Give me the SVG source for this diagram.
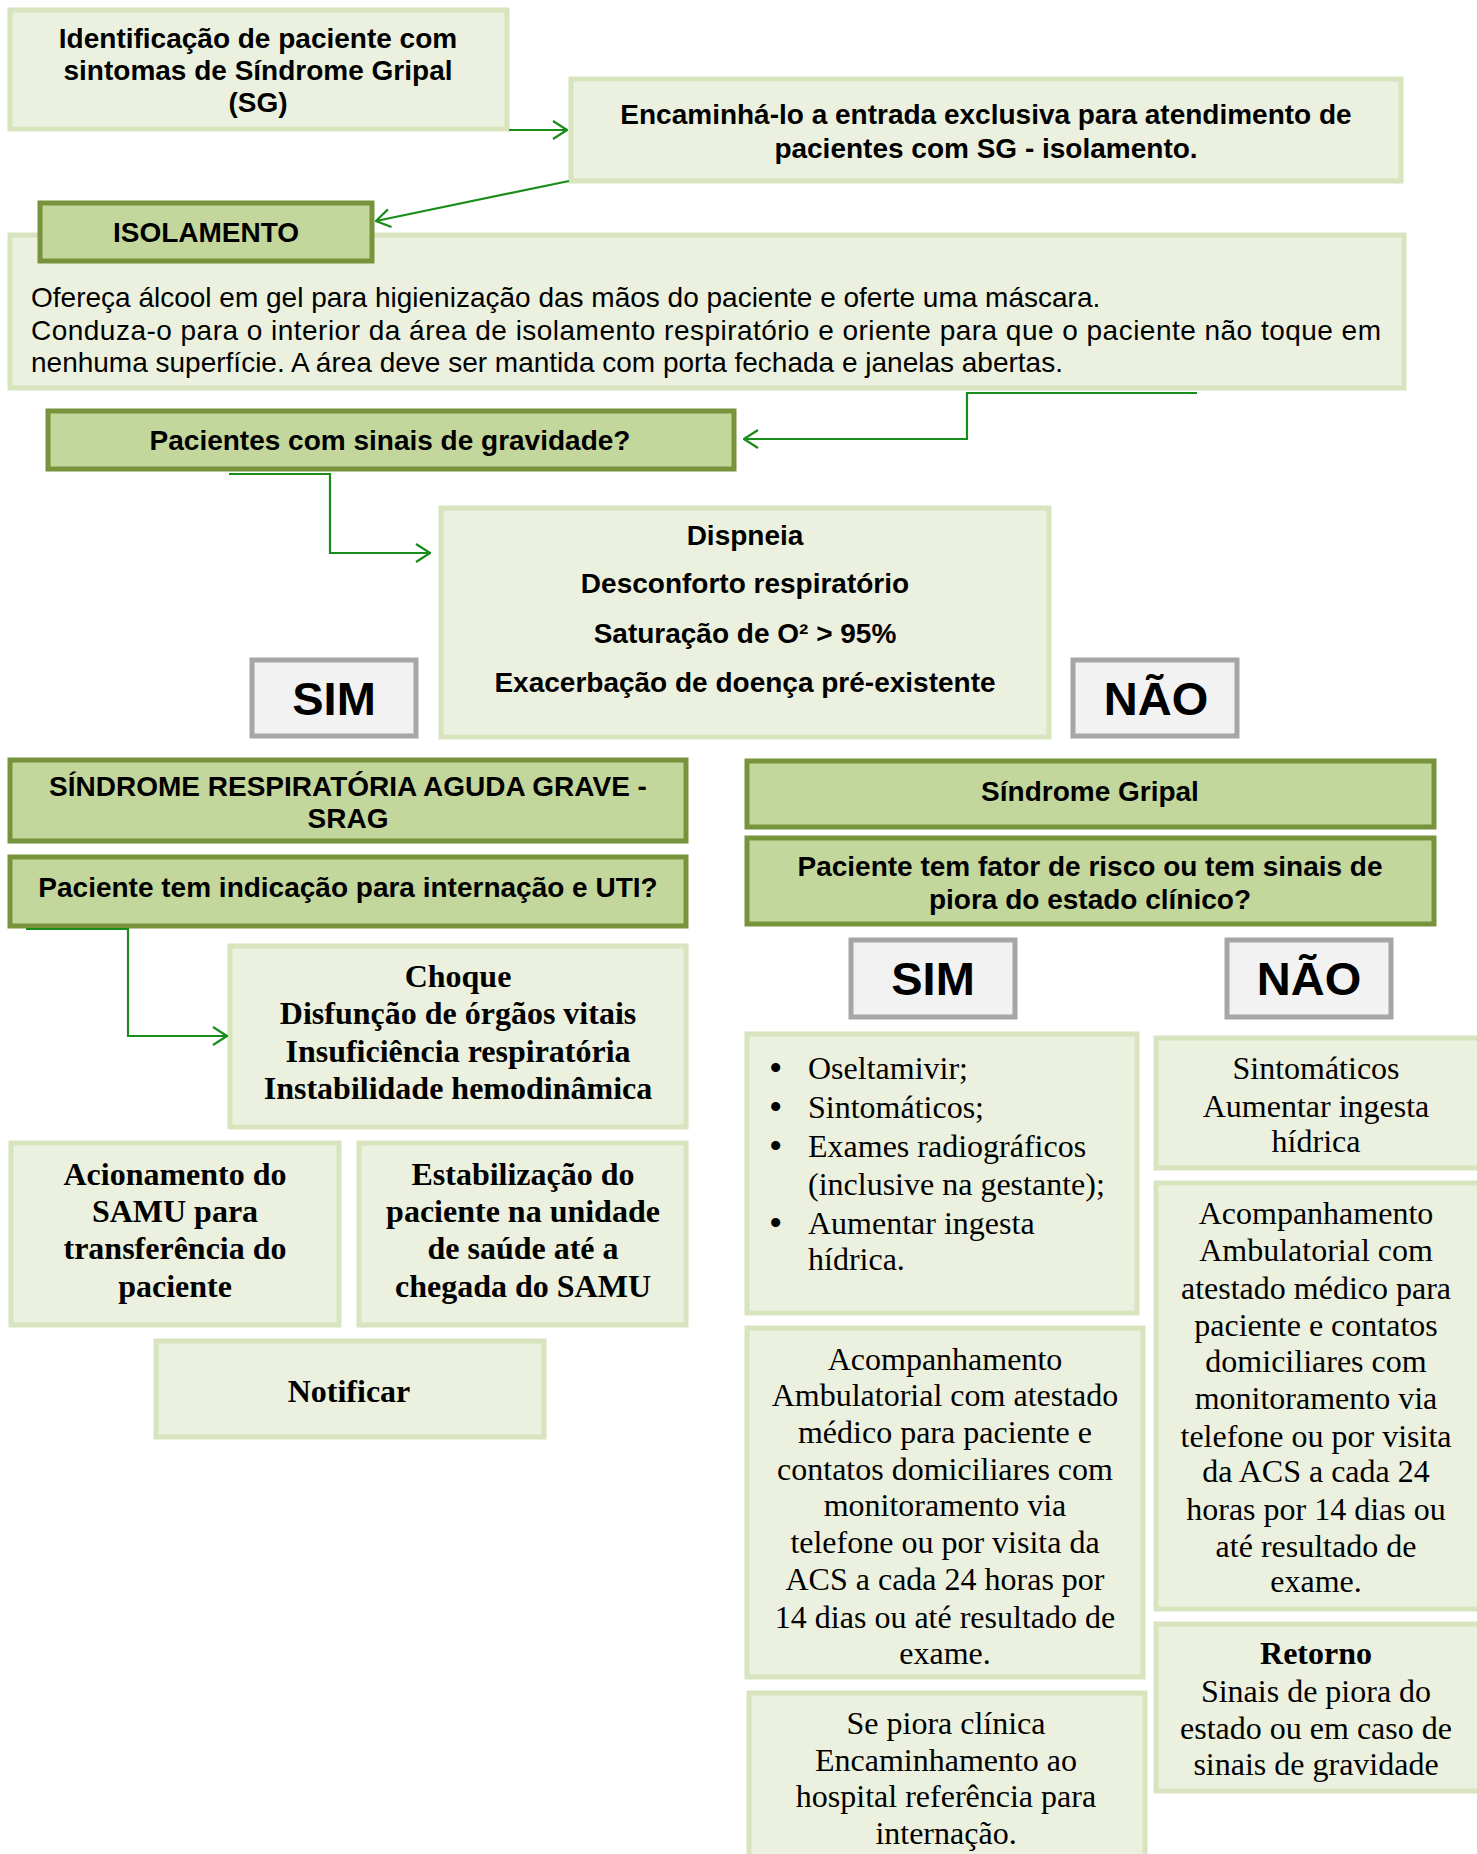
<svg xmlns="http://www.w3.org/2000/svg" width="1477" height="1854" viewBox="0 0 1477 1854">
<defs>
<style>
.lt{fill:#EBF1DE;stroke:#D7E4BD;stroke-width:5}
.hd{fill:#C3D69B;stroke:#77933C;stroke-width:5}
.gy{fill:#F2F2F2;stroke:#A6A6A6;stroke-width:5}
.ab{font-family:"Liberation Sans",Arial,sans-serif;font-weight:bold;font-size:28px;fill:#000;text-anchor:middle}
.ar{font-family:"Liberation Sans",Arial,sans-serif;font-size:28px;fill:#000}
.big{font-family:"Liberation Sans",Arial,sans-serif;font-weight:bold;font-size:47px;fill:#000;text-anchor:middle}
.tb{font-family:"Liberation Serif","Times New Roman",serif;font-weight:bold;font-size:32px;fill:#000;text-anchor:middle}
.tr{font-family:"Liberation Serif","Times New Roman",serif;font-size:32px;fill:#000;text-anchor:middle}
.tl{font-family:"Liberation Serif","Times New Roman",serif;font-size:32px;fill:#000}
.bu{font-family:"Liberation Serif","Times New Roman",serif;font-size:38px;fill:#000}
.cn{fill:none;stroke:#1A8C1A;stroke-width:2.2}
</style>
<marker id="ah" viewBox="0 0 16 20" refX="15" refY="10" markerWidth="16" markerHeight="20" markerUnits="userSpaceOnUse" orient="auto">
<path d="M1,1 L15,10 L1,19" fill="none" stroke="#1A8C1A" stroke-width="2.2"/>
</marker>
</defs>
<rect width="1477" height="1854" fill="#fff"/>

<g id="n-identificacao">
<rect class="lt" x="10" y="10" width="497" height="119"/>
<text class="ab" x="258" y="48">Identificação de paciente com</text>
<text class="ab" x="258" y="80">sintomas de Síndrome Gripal</text>
<text class="ab" x="258" y="112">(SG)</text>
</g>

<g id="n-encaminha">
<rect class="lt" x="571" y="79" width="830" height="102"/>
<text class="ab" x="986" y="124">Encaminhá-lo a entrada exclusiva para atendimento de</text>
<text class="ab" x="986" y="158">pacientes com SG - isolamento.</text>
</g>

<g id="n-isolamento-texto">
<rect class="lt" x="10" y="235" width="1394" height="153"/>
<text class="ar" x="31" y="307">Ofereça álcool em gel para higienização das mãos do paciente e oferte uma máscara.</text>
<text class="ar" x="31" y="340" textLength="1350" lengthAdjust="spacing">Conduza-o para o interior da área de isolamento respiratório e oriente para que o paciente não toque em</text>
<text class="ar" x="31" y="372">nenhuma superfície. A área deve ser mantida com porta fechada e janelas abertas.</text>
</g>

<g id="n-isolamento">
<rect class="hd" x="40" y="203" width="332" height="58"/>
<text class="ab" x="206" y="242">ISOLAMENTO</text>
</g>

<g id="n-gravidade">
<rect class="hd" x="48" y="411" width="686" height="58"/>
<text class="ab" x="390" y="450">Pacientes com sinais de gravidade?</text>
</g>

<g id="n-dispneia">
<rect class="lt" x="441" y="508" width="608" height="229"/>
<text class="ab" x="745" y="545">Dispneia</text>
<text class="ab" x="745" y="593">Desconforto respiratório</text>
<text class="ab" x="745" y="643">Saturação de O² &gt; 95%</text>
<text class="ab" x="745" y="692">Exacerbação de doença pré-existente</text>
</g>

<g id="n-sim1">
<rect class="gy" x="252" y="660" width="164" height="76"/>
<text class="big" x="334" y="715">SIM</text>
</g>

<g id="n-nao1">
<rect class="gy" x="1073" y="660" width="164" height="76"/>
<text class="big" x="1156" y="715">NÃO</text>
</g>

<g id="n-srag">
<rect class="hd" x="10" y="760" width="676" height="81"/>
<text class="ab" x="348" y="796">SÍNDROME RESPIRATÓRIA AGUDA GRAVE -</text>
<text class="ab" x="348" y="828">SRAG</text>
</g>

<g id="n-uti">
<rect class="hd" x="10" y="857" width="676" height="69"/>
<text class="ab" x="348" y="897">Paciente tem indicação para internação e UTI?</text>
</g>

<g id="n-choque">
<rect class="lt" x="230" y="946" width="456" height="181"/>
<text class="tb" x="458" y="987">Choque</text>
<text class="tb" x="458" y="1024">Disfunção de órgãos vitais</text>
<text class="tb" x="458" y="1062">Insuficiência respiratória</text>
<text class="tb" x="458" y="1099">Instabilidade hemodinâmica</text>
</g>

<g id="n-acionamento">
<rect class="lt" x="11" y="1143" width="328" height="182"/>
<text class="tb" x="175" y="1185">Acionamento do</text>
<text class="tb" x="175" y="1222">SAMU para</text>
<text class="tb" x="175" y="1259">transferência do</text>
<text class="tb" x="175" y="1297">paciente</text>
</g>

<g id="n-estabilizacao">
<rect class="lt" x="359" y="1143" width="327" height="182"/>
<text class="tb" x="523" y="1185">Estabilização do</text>
<text class="tb" x="523" y="1222">paciente na unidade</text>
<text class="tb" x="523" y="1259">de saúde até a</text>
<text class="tb" x="523" y="1297">chegada do SAMU</text>
</g>

<g id="n-notificar">
<rect class="lt" x="156" y="1341" width="388" height="96"/>
<text class="tb" x="349" y="1402">Notificar</text>
</g>

<g id="n-sg">
<rect class="hd" x="747" y="761" width="687" height="66"/>
<text class="ab" x="1090" y="801">Síndrome Gripal</text>
</g>

<g id="n-fator">
<rect class="hd" x="747" y="838" width="687" height="86"/>
<text class="ab" x="1090" y="876">Paciente tem fator de risco ou tem sinais de</text>
<text class="ab" x="1090" y="909">piora do estado clínico?</text>
</g>

<g id="n-sim2">
<rect class="gy" x="851" y="940" width="164" height="77"/>
<text class="big" x="933" y="995">SIM</text>
</g>

<g id="n-nao2">
<rect class="gy" x="1227" y="940" width="164" height="77"/>
<text class="big" x="1309" y="995">NÃO</text>
</g>

<g id="n-bullets">
<rect class="lt" x="747" y="1034" width="390" height="279"/>
<text class="bu" x="769" y="1081">•</text>
<text class="tl" x="808" y="1079">Oseltamivir;</text>
<text class="bu" x="769" y="1120">•</text>
<text class="tl" x="808" y="1118">Sintomáticos;</text>
<text class="bu" x="769" y="1159">•</text>
<text class="tl" x="808" y="1157">Exames radiográficos</text>
<text class="tl" x="808" y="1195">(inclusive na gestante);</text>
<text class="bu" x="769" y="1236">•</text>
<text class="tl" x="808" y="1234">Aumentar ingesta</text>
<text class="tl" x="808" y="1270">hídrica.</text>
</g>

<g id="n-sintomaticos">
<rect class="lt" x="1156" y="1038" width="340" height="130"/>
<text class="tr" x="1316" y="1079">Sintomáticos</text>
<text class="tr" x="1316" y="1117">Aumentar ingesta</text>
<text class="tr" x="1316" y="1152">hídrica</text>
</g>

<g id="n-acomp-nao">
<rect class="lt" x="1156" y="1183" width="340" height="426"/>
<text class="tr" x="1316" y="1224">Acompanhamento</text>
<text class="tr" x="1316" y="1261">Ambulatorial com</text>
<text class="tr" x="1316" y="1299">atestado médico para</text>
<text class="tr" x="1316" y="1336">paciente e contatos</text>
<text class="tr" x="1316" y="1372">domiciliares com</text>
<text class="tr" x="1316" y="1409">monitoramento via</text>
<text class="tr" x="1316" y="1447">telefone ou por visita</text>
<text class="tr" x="1316" y="1482">da ACS a cada 24</text>
<text class="tr" x="1316" y="1520">horas por 14 dias ou</text>
<text class="tr" x="1316" y="1557">até resultado de</text>
<text class="tr" x="1316" y="1592">exame.</text>
</g>

<g id="n-retorno">
<rect class="lt" x="1156" y="1624" width="340" height="167"/>
<text class="tb" x="1316" y="1664">Retorno</text>
<text class="tr" x="1316" y="1702">Sinais de piora do</text>
<text class="tr" x="1316" y="1739">estado ou em caso de</text>
<text class="tr" x="1316" y="1775">sinais de gravidade</text>
</g>

<g id="n-acomp-sim">
<rect class="lt" x="747" y="1328" width="396" height="349"/>
<text class="tr" x="945" y="1370">Acompanhamento</text>
<text class="tr" x="945" y="1406">Ambulatorial com atestado</text>
<text class="tr" x="945" y="1443">médico para paciente e</text>
<text class="tr" x="945" y="1480">contatos domiciliares com</text>
<text class="tr" x="945" y="1516">monitoramento via</text>
<text class="tr" x="945" y="1553">telefone ou por visita da</text>
<text class="tr" x="945" y="1590">ACS a cada 24 horas por</text>
<text class="tr" x="945" y="1628">14 dias ou até resultado de</text>
<text class="tr" x="945" y="1664">exame.</text>
</g>

<g id="n-sepiora">
<rect class="lt" x="749" y="1693" width="396" height="180"/>
<text class="tr" x="946" y="1734">Se piora clínica</text>
<text class="tr" x="946" y="1771">Encaminhamento ao</text>
<text class="tr" x="946" y="1807">hospital referência para</text>
<text class="tr" x="946" y="1844">internação.</text>
</g>

<g id="connectors">
<path class="cn" d="M509,130 H567" marker-end="url(#ah)"/>
<path class="cn" d="M569,181 L376,221" marker-end="url(#ah)"/>
<path class="cn" d="M1197,393 H967 V439 H744" marker-end="url(#ah)"/>
<path class="cn" d="M229,474 H330 V553 H430" marker-end="url(#ah)"/>
<path class="cn" d="M26,929 H128 V1036 H227" marker-end="url(#ah)"/>
</g>
</svg>
